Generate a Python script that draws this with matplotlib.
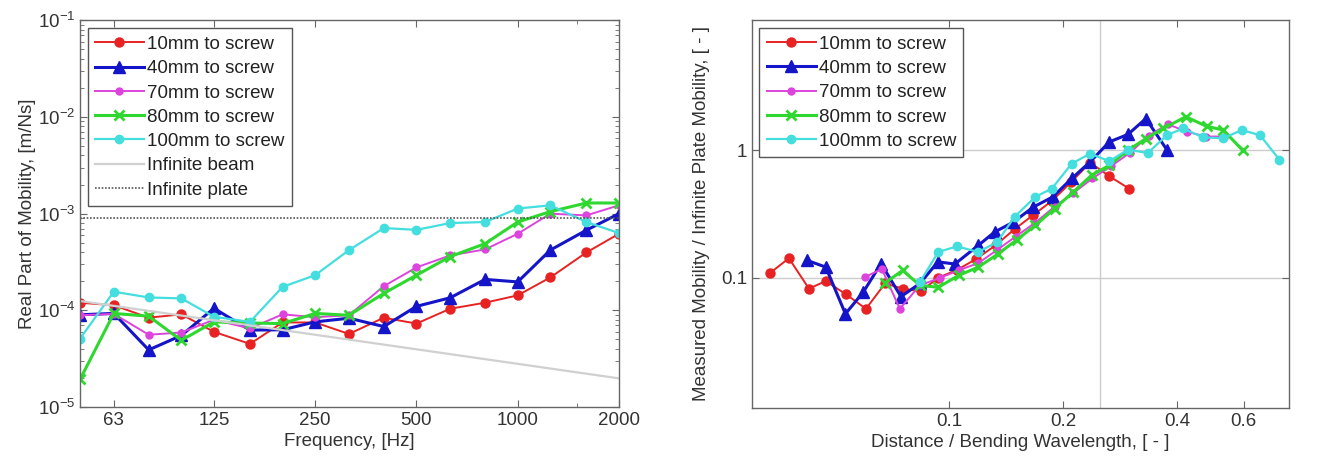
import matplotlib
matplotlib.use("Agg")
import matplotlib.pyplot as plt
from matplotlib.ticker import FixedLocator, NullFormatter, LogLocator, NullLocator

plt.rcParams['font.family'] = ['Liberation Sans', 'DejaVu Sans']

# ---------------- data: left panel ----------------
freq = [50, 63, 80, 100, 125, 160, 200, 250, 315, 400, 500, 630, 800, 1000, 1250, 1600, 2000]
mob_10 = [1.20e-4, 1.13e-4, 8.4e-5, 9.1e-5, 6.0e-5, 4.5e-5, 7.5e-5, 7.5e-5, 5.7e-5, 8.4e-5,
          7.3e-5, 1.04e-4, 1.20e-4, 1.43e-4, 2.19e-4, 3.97e-4, 6.2e-4]
mob_40 = [9.0e-5, 9.3e-5, 3.9e-5, 5.5e-5, 1.05e-4, 6.25e-5, 6.3e-5, 7.6e-5, 8.3e-5, 6.8e-5,
          1.10e-4, 1.35e-4, 2.09e-4, 1.97e-4, 4.2e-4, 6.75e-4, 1.0e-3]
mob_70 = [8.9e-5, 9.2e-5, 5.6e-5, 5.9e-5, 8.0e-5, 6.5e-5, 9.1e-5, 8.5e-5, 8.9e-5, 1.78e-4,
          2.78e-4, 3.7e-4, 4.27e-4, 6.2e-4, 1.0e-3, 9.6e-4, 1.22e-3]
mob_80 = [1.93e-5, 9.3e-5, 8.7e-5, 4.9e-5, 7.6e-5, 7.4e-5, 7.3e-5, 9.3e-5, 8.9e-5, 1.5e-4,
          2.31e-4, 3.6e-4, 4.9e-4, 8.2e-4, 1.05e-3, 1.29e-3, 1.29e-3]
mob_100 = [5.1e-5, 1.56e-4, 1.36e-4, 1.33e-4, 8.6e-5, 7.6e-5, 1.75e-4, 2.31e-4, 4.2e-4, 7.1e-4,
           6.8e-4, 8.0e-4, 8.2e-4, 1.13e-3, 1.22e-3, 8.2e-4, 6.3e-4]
beam_freq = [50, 2000]
beam_mob = [1.25e-4, 1.98e-5]
plate_freq = [50, 2000]
plate_mob = [9.0e-4, 9.0e-4]
freq_ticks = [63, 125, 250, 500, 1000, 2000]
freq_ticklabels = ['63', '125', '250', '500', '1000', '2000']

# ---------------- data: right panel ----------------
x_10 = [0.0336, 0.0378, 0.0427, 0.0473, 0.0535, 0.0604, 0.0678, 0.0756, 0.0843, 0.0937,
        0.105, 0.118, 0.133, 0.149, 0.167, 0.187, 0.210, 0.236, 0.265, 0.299]
r_10 = [0.108, 0.142, 0.082, 0.094, 0.074, 0.057, 0.090, 0.082, 0.078, 0.100,
        0.115, 0.14, 0.18, 0.24, 0.31, 0.40, 0.56, 0.80, 0.625, 0.50]
x_40 = [0.0421, 0.0473, 0.0533, 0.0594, 0.0662, 0.0747, 0.0838, 0.0935, 0.1037, 0.1195,
        0.132, 0.148, 0.167, 0.188, 0.211, 0.236, 0.265, 0.297, 0.331, 0.376]
r_40 = [0.137, 0.121, 0.052, 0.077, 0.129, 0.071, 0.090, 0.133, 0.128, 0.179,
        0.228, 0.273, 0.358, 0.43, 0.60, 0.81, 1.16, 1.33, 1.77, 1.01]
x_70 = [0.060, 0.0665, 0.0742, 0.0838, 0.095, 0.1066, 0.1196, 0.134, 0.150, 0.169,
        0.190, 0.213, 0.239, 0.268, 0.300, 0.337, 0.378, 0.424, 0.476, 0.534]
r_70 = [0.101, 0.117, 0.057, 0.087, 0.100, 0.115, 0.13, 0.165, 0.21, 0.27,
        0.36, 0.46, 0.60, 0.75, 0.95, 1.30, 1.60, 1.40, 1.28, 1.28]
x_80 = [0.0678, 0.0755, 0.0838, 0.0937, 0.106, 0.1195, 0.135, 0.151, 0.169, 0.190,
        0.213, 0.238, 0.265, 0.297, 0.331, 0.368, 0.422, 0.479, 0.530, 0.596]
r_80 = [0.091, 0.114, 0.087, 0.084, 0.104, 0.121, 0.154, 0.198, 0.257, 0.348,
        0.47, 0.636, 0.76, 1.0, 1.23, 1.48, 1.83, 1.54, 1.44, 1.0]
x_100 = [0.0838, 0.0937, 0.105, 0.1195, 0.134, 0.149, 0.169, 0.187, 0.211, 0.236,
         0.265, 0.297, 0.335, 0.376, 0.415, 0.469, 0.530, 0.593, 0.663, 0.745]
r_100 = [0.092, 0.159, 0.176, 0.159, 0.19, 0.30, 0.43, 0.50, 0.785, 0.94,
         0.82, 1.01, 0.95, 1.31, 1.48, 1.26, 1.24, 1.44, 1.31, 0.845]
dist_ticks = [0.1, 0.2, 0.4, 0.6]
dist_ticklabels = ['0.1', '0.2', '0.4', '0.6']
ratio_ticks = [0.1, 1]
ratio_ticklabels = ['0.1', '1']
ref_dist = 0.25

labels = ['10mm to screw', '40mm to screw', '70mm to screw', '80mm to screw', '100mm to screw']
colors = ['#e82222', '#1414c8', '#dd44dd', '#2ed82e', '#44dede']
markers = ['o', '^', 'o', 'x', 'o']
msizes = [6.5, 8, 5, 7, 6]
lwidths = [1.4, 2.2, 1.4, 2.2, 1.6]

FS = 13.5

fig = plt.figure(figsize=(13.34, 4.61), dpi=100)
axL = fig.add_axes([0.060, 0.117, 0.404, 0.839])
axR = fig.add_axes([0.5637, 0.115, 0.4025, 0.8416])

txt = '#333333'
spine_c = '#666666'

def style_axes(ax):
    for s in ax.spines.values():
        s.set_color(spine_c)
        s.set_linewidth(1.0)
    ax.tick_params(which='both', direction='in', top=True, right=True,
                   colors=spine_c, labelcolor=txt, labelsize=FS)
    ax.tick_params(which='major', length=5)
    ax.tick_params(which='minor', length=3)

def make_legend(ax):
    leg = ax.legend(loc='upper left', fontsize=FS, numpoints=1, handlelength=2.6,
                    labelspacing=0.38, borderpad=0.4, handletextpad=0.15,
                    borderaxespad=0.0,
                    fancybox=False, framealpha=1, edgecolor='#555555',
                    bbox_to_anchor=(0.014, 0.979))
    leg.get_frame().set_linewidth(1.0)
    for t in leg.get_texts():
        t.set_color('#222222')
    return leg

# ---- left panel ----
series_L = [mob_10, mob_40, mob_70, mob_80, mob_100]
for ys, lab, c, m, ms, lw in zip(series_L, labels, colors, markers, msizes, lwidths):
    axL.plot(freq, ys, color=c, marker=m, markersize=ms, linewidth=lw, label=lab,
             markeredgewidth=2 if m == 'x' else 1)
axL.plot(beam_freq, beam_mob, color='#d0d0d0', linewidth=1.6, label='Infinite beam')
axL.plot(plate_freq, plate_mob, color='#555555', linewidth=1.2, linestyle=(0, (1, 1)),
         label='Infinite plate')
axL.set_xscale('log')
axL.set_yscale('log')
axL.set_xlim(50, 2000)
axL.set_ylim(1e-5, 1e-1)
axL.xaxis.set_major_locator(FixedLocator(freq_ticks))
axL.set_xticklabels(freq_ticklabels)
axL.xaxis.set_minor_locator(FixedLocator([1500]))
axL.xaxis.set_minor_formatter(NullFormatter())
axL.yaxis.set_major_locator(LogLocator(base=10, numticks=10))
axL.yaxis.set_minor_locator(LogLocator(base=10, subs=range(2, 10), numticks=20))
axL.yaxis.set_minor_formatter(NullFormatter())
style_axes(axL)
axL.set_xlabel('Frequency, [Hz]', fontsize=FS, color=txt, labelpad=3)
axL.set_ylabel('Real Part of Mobility, [m/Ns]', fontsize=FS, color=txt, labelpad=1)
make_legend(axL)

# ---- right panel ----
xs_R = [x_10, x_40, x_70, x_80, x_100]
ys_R = [r_10, r_40, r_70, r_80, r_100]
axR.axhline(0.1, color='#cccccc', linewidth=1.0, zorder=0)
axR.axhline(1.0, color='#cccccc', linewidth=1.0, zorder=0)
axR.axvline(ref_dist, color='#cccccc', linewidth=1.0, zorder=0)
for xs, ys, lab, c, m, ms, lw in zip(xs_R, ys_R, labels, colors, markers, msizes, lwidths):
    axR.plot(xs, ys, color=c, marker=m, markersize=ms, linewidth=lw, label=lab,
             markeredgewidth=2 if m == 'x' else 1)
axR.set_xscale('log')
axR.set_yscale('log')
axR.set_xlim(0.0302, 0.79)
axR.set_ylim(0.0095, 10.5)
axR.xaxis.set_major_locator(FixedLocator(dist_ticks))
axR.set_xticklabels(dist_ticklabels)
axR.xaxis.set_minor_locator(NullLocator())
axR.yaxis.set_major_locator(FixedLocator(ratio_ticks))
axR.set_yticklabels(ratio_ticklabels)
axR.yaxis.set_minor_locator(NullLocator())
style_axes(axR)
axR.set_xlabel('Distance / Bending Wavelength, [ - ]', fontsize=FS, color=txt, labelpad=3)
axR.set_ylabel('Measured Mobility / Infinite Plate Mobility, [ - ]', fontsize=FS,
               color=txt, labelpad=8)
make_legend(axR)

fig.savefig('out.png', dpi=100, facecolor='white')
